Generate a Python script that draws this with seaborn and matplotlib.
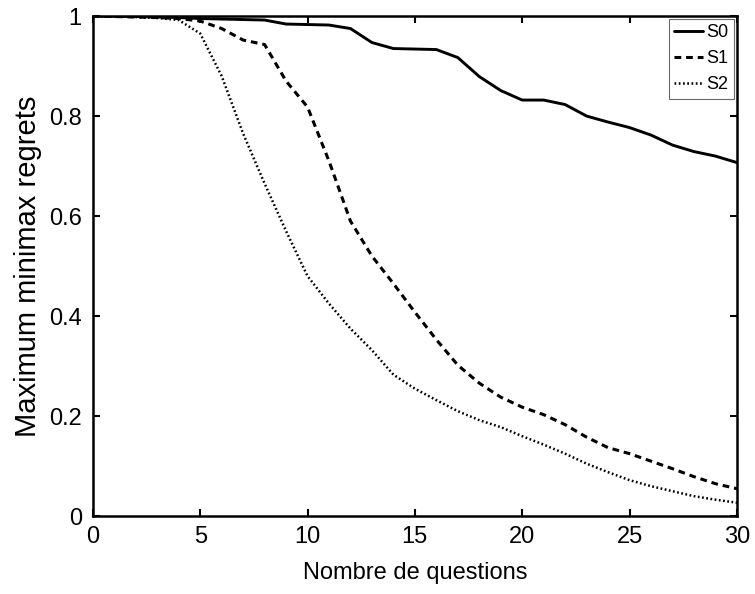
import pandas as pd
import numpy as np
import matplotlib
matplotlib.use("Agg")
import matplotlib.pyplot as plt
import seaborn as sns

# Values
questions = list(range(0, 31))
s0 = [1.0, 1.0, 0.999, 0.998, 0.997, 0.995, 0.994, 0.993, 0.992, 0.984,
      0.983, 0.982, 0.975, 0.947, 0.935, 0.934, 0.933, 0.917, 0.879, 0.851,
      0.832, 0.832, 0.823, 0.800, 0.788, 0.777, 0.762, 0.742, 0.729, 0.720,
      0.707]
s1 = [1.0, 0.999, 0.998, 0.997, 0.995, 0.990, 0.975, 0.952, 0.943, 0.870,
      0.818, 0.710, 0.590, 0.520, 0.465, 0.408, 0.353, 0.302, 0.266, 0.238,
      0.218, 0.203, 0.183, 0.158, 0.137, 0.125, 0.110, 0.095, 0.079, 0.065,
      0.055]
s2 = [1.0, 0.999, 0.998, 0.996, 0.992, 0.965, 0.880, 0.765, 0.665, 0.570,
      0.480, 0.425, 0.375, 0.332, 0.283, 0.255, 0.232, 0.210, 0.192, 0.178,
      0.160, 0.143, 0.125, 0.105, 0.088, 0.072, 0.060, 0.050, 0.040, 0.033,
      0.027]
series_names = ["S0", "S1", "S2"]
x_ticks = [0, 5, 10, 15, 20, 25, 30]
y_ticks = [0, 0.2, 0.4, 0.6, 0.8, 1.0]
y_tick_labels = ["0", "0.2", "0.4", "0.6", "0.8", "1"]

df = pd.DataFrame({
    "questions": questions * 3,
    "regret": s0 + s1 + s2,
    "series": np.repeat(series_names, len(questions)),
})

sns.set_style("ticks")
plt.rcParams["font.family"] = ["Liberation Sans", "DejaVu Sans"]
plt.rcParams["xtick.direction"] = "in"
plt.rcParams["ytick.direction"] = "in"
plt.rcParams["text.color"] = "black"
plt.rcParams["axes.labelcolor"] = "black"
plt.rcParams["xtick.color"] = "black"
plt.rcParams["ytick.color"] = "black"

fig = plt.figure(figsize=(7.55, 5.94), dpi=100)
ax = fig.add_axes([0.123, 0.131, 0.853, 0.842])

styles = {"S0": "-", "S1": (0, (2.2, 1.6)), "S2": (0, (0.7, 1.0))}
widths = {"S0": 2.1, "S1": 2.2, "S2": 1.8}
for name in series_names:
    sns.lineplot(data=df[df["series"] == name], x="questions", y="regret",
                 color="black", linestyle=styles[name], linewidth=widths[name],
                 label=name, ax=ax)

ax.set_xlim(0, 30)
ax.set_ylim(0, 1)
ax.set_xticks(x_ticks)
ax.set_yticks(y_ticks)
ax.set_yticklabels(y_tick_labels)
ax.tick_params(axis="both", which="both", top=True, right=True, length=5,
               width=1.5, pad=7, colors="black")
ax.tick_params(axis="x", labelsize=17)
ax.tick_params(axis="y", labelsize=17, pad=8)
for sp in ax.spines.values():
    sp.set_visible(True)
    sp.set_linewidth(1.8)
    sp.set_color("black")

ax.set_xlabel("Nombre de questions", fontsize=17, labelpad=10, color="black")
ax.set_ylabel("Maximum minimax regrets", fontsize=21, labelpad=5, color="black")

leg = ax.legend(loc="upper right", fontsize=13, frameon=True, fancybox=False,
                handlelength=1.6, handletextpad=0.2, borderpad=0.3,
                labelspacing=0.5, borderaxespad=0.15)
leg.get_frame().set_edgecolor("#444444")
leg.get_frame().set_linewidth(0.8)
for t in leg.get_texts():
    t.set_color("black")

fig.savefig("out.png", dpi=100)
